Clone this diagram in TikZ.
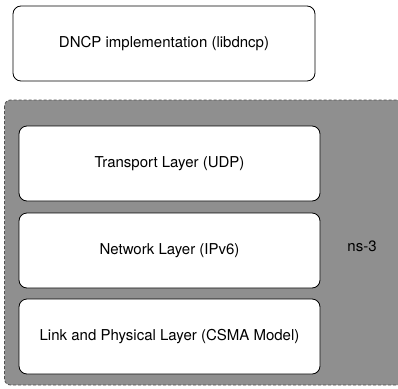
\documentclass[tikz,border=0pt]{standalone}
\usepackage{fontspec}
\setmainfont{TeX Gyre Heros}
\usepackage{tikz}

\definecolor{simgray}{RGB}{143,143,143}
\definecolor{dashgray}{RGB}{80,80,80}

\tikzset{
  layerbox/.style={draw=black, fill=white, rounded corners=8pt, line width=0.8pt,
    minimum width=301pt, minimum height=75pt, inner sep=0pt,
    font=\fontsize{15}{18}\selectfont},
}

\begin{document}
\begin{tikzpicture}[x=1pt,y=-1pt]
  \useasboundingbox (0,0) rectangle (398,388);

  % ns-3 container
  \path [draw=dashgray, dash pattern=on 3pt off 2pt, fill=simgray, rounded corners=6pt, line width=0.8pt]
        (4.5,100) rectangle (410,385);
  \node (ns) at (362,246) {\fontsize{15}{18}\selectfont ns-3};

  \node [layerbox, minimum width=302pt] (dncp) at (164,43.5) {DNCP implementation (libdncp)};

  \node [layerbox] (transport) at (169.5,163.5) {Transport Layer (UDP)};
  \node [layerbox] (network)   at (169.5,250.5) {Network Layer (IPv6)};
  \node [layerbox] (link)      at (169.5,336.5) {Link and Physical Layer (CSMA Model)};
\end{tikzpicture}
\end{document}
